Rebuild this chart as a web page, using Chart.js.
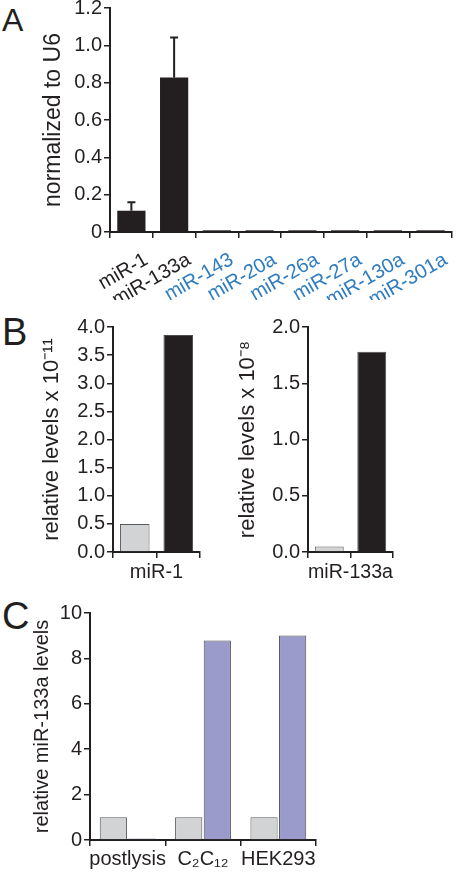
<!DOCTYPE html>
<html>
<head>
<meta charset="utf-8">
<script src="https://cdn.jsdelivr.net/npm/chart.js@4.4.1/dist/chart.umd.min.js"></script>
<style>
body { margin: 0; background: #fff; width: 456px; height: 873px; position: relative; overflow: hidden; font-family: 'Liberation Sans', Arial, sans-serif; }
canvas { position: absolute; }
.panel { position: absolute; line-height: 1; color: #231f20; }
</style>
</head>
<body>
<div class="panel" style="left:2px;top:4px;font-size:32px">A</div>
<div class="panel" style="left:2px;top:313px;font-size:38px">B</div>
<div class="panel" style="left:2px;top:597px;font-size:38px">C</div>
<canvas id="chartA" width="456" height="300" style="left:0;top:0"></canvas>
<canvas id="chartB1" width="210" height="290" style="left:0;top:300px"></canvas>
<canvas id="chartB2" width="246" height="290" style="left:210px;top:300px"></canvas>
<canvas id="chartC" width="456" height="283" style="left:0;top:590px"></canvas>
<script>
// Panel A - miRNA levels normalized to U6
const aLabels = ['miR-1', 'miR-133a', 'miR-143', 'miR-20a', 'miR-26a', 'miR-27a', 'miR-130a', 'miR-301a'];
const aValues = [0.114, 0.828, 0.009, 0.009, 0.009, 0.009, 0.009, 0.009];
const aErrors = [0.045, 0.214, 0, 0, 0, 0, 0, 0];
const aYTicks = [0, 0.2, 0.4, 0.6, 0.8, 1.0, 1.2];

// Panel B - relative levels (two bars per miRNA)
const b1Labels = ['', ''];
const b1Values = [0.5, 3.86];
const b1Group = 'miR-1';
const b1YTicks = [0, 0.5, 1.0, 1.5, 2.0, 2.5, 3.0, 3.5, 4.0];
const b2Labels = ['', ''];
const b2Values = [0.05, 1.78];
const b2Group = 'miR-133a';
const b2YTicks = [0, 0.5, 1.0, 1.5, 2.0];

// Panel C - relative miR-133a levels
const cLabels = ['postlysis', 'C\u2082C\u2081\u2082', 'HEK293'];
const cGrey = [1.0, 1.0, 1.0];
const cPurple = [0.07, 8.79, 9.01];
const cYTicks = [0, 2, 4, 6, 8, 10];

const FONT = "'Liberation Sans', Arial, Helvetica, sans-serif";
const INK = '#231f20';
const BLUE = '#2f7dc0';
const GREY = '#d1d3d4';
const GREY_EDGE = '#58595b';
const PURPLE = '#9a9acb';

// force axis box sizes so chart areas land where we want
function fitTo(scale, size) {
    if (scale.isHorizontal()) scale.height = size;
    else scale.width = size;
    scale.paddingTop = 0;
    scale.paddingBottom = 0;
    scale.paddingLeft = 0;
    scale.paddingRight = 0;
}

function yAxis(o) {
    return {
        min: o.ticks[0],
        max: o.ticks[o.ticks.length - 1],
        afterBuildTicks: s => { s.ticks = o.ticks.map(v => ({ value: v })); },
        afterFit: s => fitTo(s, o.size),
        border: { display: true, color: INK, width: 2 },
        grid: { drawOnChartArea: false, drawTicks: true, tickLength: 6, color: INK, lineWidth: 1.5 },
        ticks: { font: { family: FONT, size: 20 }, color: INK, padding: 2, callback: o.fmt },
        title: {
            display: true,
            text: o.title,
            font: { family: FONT, size: o.titleSize },
            color: INK,
            padding: { top: o.titlePad, bottom: 0 }
        }
    };
}

function xAxis(o) {
    return {
        offset: true,
        afterFit: s => fitTo(s, o.size),
        border: { display: true, color: INK, width: 2 },
        grid: { offset: true, drawOnChartArea: false, drawTicks: true, tickLength: 6, color: INK, lineWidth: 1.5 },
        ticks: {
            display: o.showTicks,
            autoSkip: false,
            minRotation: o.rotate || 0,
            maxRotation: o.rotate || 0,
            padding: o.tickPad || 3,
            labelOffset: o.labelOffset || 0,
            font: { family: FONT, size: 20 },
            color: o.color || INK
        },
        title: {
            display: !!o.title,
            text: o.title || '',
            font: { family: FONT, size: 20 },
            color: INK,
            padding: { top: 0, bottom: o.titlePad || 0 }
        }
    };
}

const baseOptions = {
    responsive: false,
    animation: false,
    events: [],
    plugins: { legend: { display: false }, tooltip: { enabled: false } }
};

// upward-only error bars for panel A
const errorBarPlugin = {
    id: 'errorBars',
    afterDatasetsDraw(chart) {
        const meta = chart.getDatasetMeta(0);
        const yScale = chart.scales.y;
        const ctx = chart.ctx;
        ctx.save();
        ctx.strokeStyle = INK;
        ctx.lineWidth = 2;
        meta.data.forEach((bar, i) => {
            if (!aErrors[i]) return;
            const yTop = yScale.getPixelForValue(aValues[i] + aErrors[i]);
            ctx.beginPath();
            ctx.moveTo(bar.x, bar.y);
            ctx.lineTo(bar.x, yTop);
            ctx.moveTo(bar.x - 4, yTop);
            ctx.lineTo(bar.x + 4, yTop);
            ctx.stroke();
        });
        ctx.restore();
    }
};

new Chart(document.getElementById('chartA'), {
    type: 'bar',
    data: {
        labels: aLabels,
        datasets: [{
            data: aValues,
            backgroundColor: INK,
            borderWidth: 0,
            barPercentage: 0.66,
            categoryPercentage: 1
        }]
    },
    options: {
        ...baseOptions,
        layout: { padding: { top: 8, right: 4, left: 0, bottom: 0 } },
        scales: {
            x: xAxis({
                size: 68, showTicks: true, rotate: 30, tickPad: 10, labelOffset: 15,
                color: ctx => ctx.index < 2 ? INK : BLUE
            }),
            y: yAxis({
                size: 110, ticks: aYTicks, title: 'normalized to U6', titleSize: 23, titlePad: 40,
                fmt: v => v === 0 ? '0' : v.toFixed(1)
            })
        }
    },
    plugins: [errorBarPlugin]
});

function panelB(id, labels, values, group, ticks, sup, yWidth, titlePad, padRight) {
    return new Chart(document.getElementById(id), {
        type: 'bar',
        data: {
            labels: labels,
            datasets: [{
                data: values,
                backgroundColor: [GREY, INK],
                borderColor: [GREY_EDGE, '#4d4d4f'],
                borderWidth: 1,
                barPercentage: 0.68,
                categoryPercentage: 1
            }]
        },
        options: {
            ...baseOptions,
            layout: { padding: { top: 27, right: padRight, left: 0, bottom: 0 } },
            scales: {
                x: xAxis({ size: 38, showTicks: false, title: group, titlePad: 6 }),
                y: yAxis({
                    size: yWidth, ticks: ticks, title: 'relative levels x 10' + sup, titleSize: 22, titlePad: titlePad,
                    fmt: v => v.toFixed(1)
                })
            }
        }
    });
}

panelB('chartB1', b1Labels, b1Values, b1Group, b1YTicks, '\u207B\u00B9\u00B9', 113, 39, 10);
panelB('chartB2', b2Labels, b2Values, b2Group, b2YTicks, '\u207B\u2078', 98, 25, 63);

new Chart(document.getElementById('chartC'), {
    type: 'bar',
    data: {
        labels: cLabels,
        datasets: [
            {
                data: cGrey,
                backgroundColor: GREY,
                borderColor: GREY_EDGE,
                borderWidth: 1,
                barPercentage: 0.95,
                categoryPercentage: 0.76
            },
            {
                data: cPurple,
                backgroundColor: PURPLE,
                borderColor: '#4d4d4f',
                borderWidth: 1,
                barPercentage: 0.95,
                categoryPercentage: 0.76
            }
        ]
    },
    options: {
        ...baseOptions,
        layout: { padding: { top: 23, right: 140, left: 0, bottom: 0 } },
        scales: {
            x: xAxis({ size: 33, showTicks: true, tickPad: 1 }),
            y: yAxis({
                size: 90, ticks: cYTicks, title: 'relative miR-133a levels', titleSize: 20, titlePad: 30,
                fmt: v => String(v)
            })
        }
    }
});
</script>
</body>
</html>
